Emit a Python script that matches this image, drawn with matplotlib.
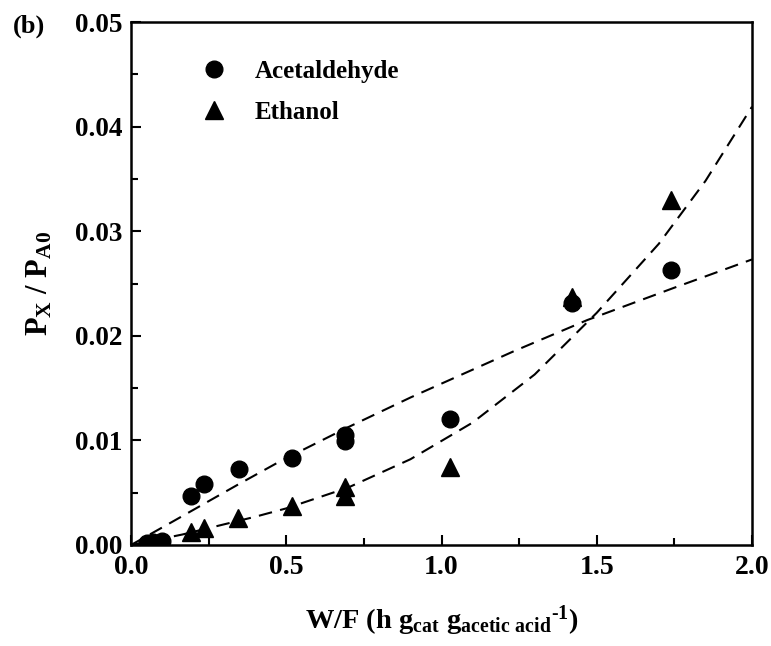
import matplotlib
matplotlib.use("Agg")
import matplotlib.pyplot as plt
from matplotlib.ticker import MultipleLocator

plt.rcParams['font.family'] = ['Liberation Serif', 'DejaVu Serif']
plt.rcParams['font.weight'] = 'bold'
plt.rcParams['mathtext.fontset'] = 'custom'
plt.rcParams['mathtext.rm'] = 'Liberation Serif:bold'
plt.rcParams['mathtext.it'] = 'Liberation Serif:bold'
plt.rcParams['mathtext.bf'] = 'Liberation Serif:bold'

# Data
wf_acet = [0.05, 0.07, 0.10, 0.193, 0.235, 0.348, 0.519, 0.689, 0.689, 1.027, 1.42, 1.739]
p_acet = [0.0002, 0.0003, 0.0004, 0.0047, 0.0058, 0.0073, 0.0083, 0.0105, 0.0099, 0.0120, 0.0231, 0.0263]
wf_eth = [0.05, 0.07, 0.10, 0.193, 0.235, 0.345, 0.519, 0.689, 0.689, 1.027, 1.42, 1.739]
p_eth = [0.0001, 0.0001, 0.0002, 0.0012, 0.0016, 0.0026, 0.0037, 0.0055, 0.0047, 0.0075, 0.0237, 0.0330]

# Model fit curves
fit_acet_x = [0.0, 0.12, 0.34, 0.48, 0.695, 0.9, 1.231, 1.469, 1.75, 2.0]
fit_acet_y = [0.0, 0.0020, 0.0057, 0.0080, 0.0112, 0.0141, 0.0185, 0.0215, 0.0246, 0.0273]
fit_eth_x = [0.0, 0.165, 0.4, 0.5, 0.7, 0.9, 1.1, 1.3, 1.5, 1.7, 1.85, 2.0]
fit_eth_y = [0.0, 0.0010, 0.0027, 0.0035, 0.0055, 0.0082, 0.0117, 0.0163, 0.0222, 0.0288, 0.0348, 0.0419]

xticks = [0.0, 0.5, 1.0, 1.5, 2.0]
yticks = [0.00, 0.01, 0.02, 0.03, 0.04, 0.05]

fig = plt.figure(figsize=(7.71, 6.46), dpi=100)
ax = fig.add_axes([131/771, 1-545/646, (752-131)/771, (545-22)/646])

dash = (0, (6.5, 4))
ax.plot(fit_acet_x, fit_acet_y, color='black', lw=1.5, linestyle=dash, zorder=2)
ax.plot(fit_eth_x, fit_eth_y, color='black', lw=1.5, linestyle=dash, zorder=2)
ax.plot(wf_eth, p_eth, linestyle='none', marker='^', ms=12.5, color='black', label='Ethanol', zorder=3)
ax.plot(wf_acet, p_acet, linestyle='none', marker='o', ms=12, color='black', label='Acetaldehyde', zorder=3)

ax.set_xlim(0, 2.0)
ax.set_ylim(0, 0.05)
ax.set_xticks(xticks)
ax.set_xticklabels([f"{v:.1f}" for v in xticks], fontsize=20, fontweight='bold')
ax.set_yticks(yticks)
ax.set_yticklabels([f"{v:.2f}" for v in yticks], fontsize=19.5, fontweight='bold')
ax.xaxis.set_minor_locator(MultipleLocator(0.25))
ax.yaxis.set_minor_locator(MultipleLocator(0.005))
ax.tick_params(which='both', direction='in', top=False, right=False, width=1.5)
ax.tick_params(which='major', length=7)
ax.tick_params(which='minor', length=5)
ax.tick_params(axis='x', pad=7)
ax.tick_params(axis='y', pad=6)
for s in ax.spines.values():
    s.set_linewidth(1.8)

ax.set_xlabel('W/F (h g$_{\\mathregular{cat}}$ g$_{\\mathregular{acetic\\ acid}}$$^{\\mathregular{\u20101}}$)',
              fontsize=20.5, fontweight='bold', labelpad=17)
ax.set_ylabel(r'P$_{\mathregular{X}}$ / P$_{\mathregular{A0}}$', fontsize=22, fontweight='bold', labelpad=15)

handles, labels = ax.get_legend_handles_labels()
leg = ax.legend(handles[::-1], labels[::-1], loc='upper left', bbox_to_anchor=(0.113, 0.927),
                frameon=False, fontsize=18, handlelength=1.0, handletextpad=1.15,
                labelspacing=0.7, borderaxespad=0.0, borderpad=0.0)
for t in leg.get_texts():
    t.set_fontweight('bold')

fig.text(13/771, 1-26/646, '(b)', fontsize=19, fontweight='bold', va='center', ha='left')

fig.savefig('out.png', dpi=100)
